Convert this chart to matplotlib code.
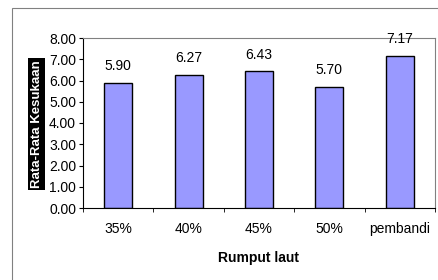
import matplotlib
matplotlib.use("Agg")
import matplotlib.pyplot as plt
from matplotlib.patches import Rectangle

categories = ["35%", "40%", "45%", "50%", "pembandi"]
values = [5.90, 6.27, 6.43, 5.70, 7.17]
yticks = [0, 1, 2, 3, 4, 5, 6, 7, 8]

plt.rcParams["font.family"] = ["Liberation Sans", "DejaVu Sans"]

W, H = 438, 280
fig = plt.figure(figsize=(W / 100, H / 100), dpi=100)

# outer chart frame
fig.patches.append(Rectangle((12 / W, -0.1), 1.0, (H - 8) / H + 0.1,
                             transform=fig.transFigure, fill=False,
                             edgecolor="#808080", linewidth=0.8))

fs = 10
ax = fig.add_axes([83 / W, (H - 208) / H, (435 - 83) / W, 170 / H])
x = range(len(categories))
ax.bar(x, values, width=0.4, color="#9999FF", edgecolor="black", linewidth=1.0)
for xi, v in zip(x, values):
    ax.text(xi, v + 0.45, f"{v:.2f}", ha="center", va="bottom", fontsize=fs)

ax.set_xlim(-0.5, len(categories) - 0.5)
ax.set_ylim(0, 8)
ax.set_yticks(yticks)
ax.set_yticklabels([f"{t:.2f}" for t in yticks], fontsize=fs)
ax.set_xticks(list(x))
ax.set_xticklabels(categories, fontsize=fs)
ax.tick_params(axis="x", length=0, pad=10)
ax.set_xticks([i + 0.5 for i in range(-1, len(categories))], minor=True)
ax.tick_params(axis="x", which="minor", length=3, direction="out")
ax.tick_params(axis="y", length=3, direction="out", pad=2)

ax.spines["top"].set_color("#808080")
ax.spines["right"].set_color("#808080")
ax.spines["left"].set_color("black")
ax.spines["bottom"].set_color("black")

ax.set_xlabel("Rumput laut", fontsize=fs, fontweight="bold", labelpad=11)
fig.text(36.5 / W, (H - 124) / H, "Rata-Rata Kesukaan", rotation=90,
         ha="center", va="center", fontsize=9.5, fontweight="bold", color="white",
         bbox=dict(facecolor="black", edgecolor="none", pad=1.5))

fig.savefig("out.png", dpi=100)
